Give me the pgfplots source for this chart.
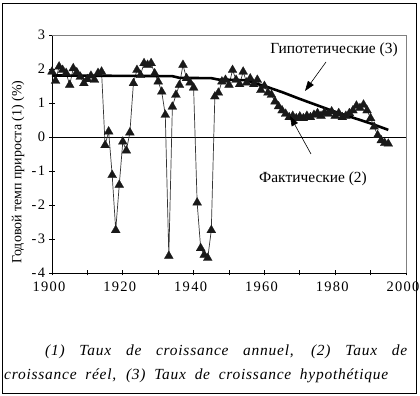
\documentclass[border=0pt]{standalone}
\usepackage{pgfplots}
\pgfplotsset{compat=1.18}
\usepackage{pgfplotstable}
\usepackage{fontspec}
\setmainfont{Liberation Serif}
\newfontfamily\spaced[LetterSpace=9]{Liberation Serif}
\newfontfamily\capfont[LetterSpace=5]{Liberation Serif}
\usetikzlibrary{arrows.meta}

\pgfplotstableread{
year val
1900 1.92
1901 1.65
1902 2.07
1903 1.97
1904 1.88
1905 1.53
1906 2.02
1907 1.90
1908 1.77
1909 1.58
1910 1.70
1911 1.80
1912 1.68
1913 1.88
1914 1.92
1915 -0.24
1916 0.16
1917 -1.12
1918 -2.74
1919 -1.41
1920 -0.14
1921 -0.40
1922 0.13
1923 1.58
1924 1.97
1925 1.82
1926 2.17
1927 2.12
1928 2.17
1929 1.87
1930 1.63
1931 1.33
1932 0.65
1933 -3.50
1934 0.89
1935 1.24
1936 1.53
1937 2.12
1938 1.73
1939 1.60
1940 1.45
1941 -1.93
1942 -3.27
1943 -3.47
1944 -3.56
1945 -2.74
1946 1.19
1947 1.30
1948 1.63
1949 1.68
1950 1.53
1951 1.97
1952 1.68
1953 1.55
1954 1.92
1955 1.60
1956 1.72
1957 1.55
1958 1.68
1959 1.38
1960 1.50
1961 1.30
1962 1.24
1963 1.04
1964 0.90
1965 0.78
1966 0.68
1967 0.58
1968 0.62
1969 0.55
1970 0.60
1971 0.55
1972 0.62
1973 0.58
1974 0.65
1975 0.70
1976 0.62
1977 0.72
1978 0.68
1979 0.75
1980 0.62
1981 0.70
1982 0.58
1983 0.62
1984 0.70
1985 0.78
1986 0.92
1987 0.85
1988 0.95
1989 0.78
1990 0.55
1991 0.30
1992 0.05
1993 -0.10
1994 -0.18
1995 -0.20
}\actual

\pgfplotstableread{
year val
1900 1.81
1934 1.79
1936 1.74
1945 1.73
1947 1.69
1955 1.67
1958 1.56
1960 1.50
1965 1.32
1970 1.12
1975 0.93
1980 0.74
1985 0.57
1990 0.40
1995 0.21
}\hypo

\begin{document}
\begin{tikzpicture}[x=1bp,y=1bp]
\path[use as bounding box] (0,0) rectangle (420,396);
\draw[line width=0.8bp] (2,3) rectangle (416,393);
\begin{axis}[
  at={(52bp,123bp)}, anchor=south west,
  scale only axis, width=354bp, height=238bp,
  xmin=1900, xmax=2000, ymin=-4, ymax=3,
  axis lines*=left,
  axis line style={black, line width=0.7bp},
  xtick={1900,1910,...,2000},
  xticklabels={1900,,1920,,1940,,1960,,1980,,2000},
  ytick={-4,-3,-2,-1,0,1,2,3},
  yticklabels={-4,-3,-2,-1,0,1,2,3},
  tick align=center,
  major tick length=5bp,
  tick style={black, line width=0.7bp},
  ticklabel style={font=\spaced\fontsize{14.5}{16}\selectfont},
  xticklabel style={yshift=-3bp, xshift=-3bp},
  yticklabel style={xshift=-1bp},
  clip=false,
]
\draw[gray, line width=0.7bp] (rel axis cs:0,1) -- (rel axis cs:1,1) -- (rel axis cs:1,0);
\draw[black, line width=0.7bp] (axis cs:1900,0) -- (axis cs:2000,0);
\addplot[black!80, line width=0.7bp, mark=triangle*, mark size=5.2pt,
  mark options={fill=black!90, draw=black!90, line width=0.2bp}] table[x=year,y=val] {\actual};
\addplot[black, line width=2.6bp, no marks] table[x=year,y=val] {\hypo};
\end{axis}
\node[rotate=90, font=\fontsize{14}{16}\selectfont] at (18,224) {Годовой темп прироста (1) (\%)};
\node[font=\fontsize{15.5}{17}\selectfont] at (334,346) {Гипотетические (3)};
\draw[line width=0.6bp, -{Triangle[length=10bp,width=7bp]}] (326,334) -- (305,305);
\node[font=\fontsize{15.5}{17}\selectfont] at (313,217) {Фактические (2)};
\draw[line width=0.6bp, -{Triangle[length=10bp,width=7bp]}] (311,242) -- (290,280);
\node[anchor=west, inner sep=0pt, font=\capfont\itshape\fontsize{15.5}{17}\selectfont] at (45,44) {\makebox[362bp][s]{(1) Taux de croissance annuel, (2) Taux de}};
\node[anchor=west, inner sep=0pt, font=\capfont\itshape\fontsize{15.5}{17}\selectfont] at (4,20) {\makebox[384bp][s]{croissance réel, (3) Taux de croissance hypothétique}};
\end{tikzpicture}
\end{document}
